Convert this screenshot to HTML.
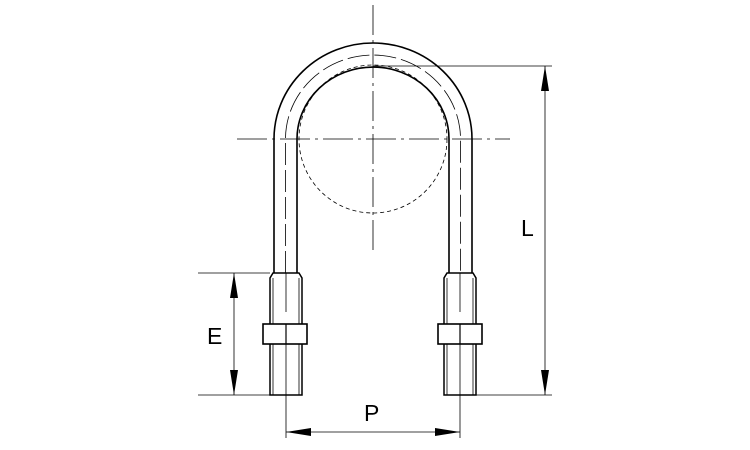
<!DOCTYPE html>
<html><head><style>html,body{margin:0;padding:0;background:#fff}svg{display:block}</style></head>
<body>
<svg width="750" height="450" viewBox="0 0 750 450" xmlns="http://www.w3.org/2000/svg">
<g fill="none" stroke="#000">
<line x1="373" y1="5" x2="373" y2="250" stroke-width="0.8" stroke-dasharray="30,5,3,5"/>
<line x1="237" y1="139" x2="510" y2="139" stroke-width="0.8" stroke-dasharray="30,5,3,5"/>
<circle cx="373" cy="139" r="74" stroke-width="0.8" stroke-dasharray="4,3"/>
<path d="M274 273 V139 A99 96 0 0 1 472 139 V273" stroke-width="1.6"/>
<path d="M297 273 V139 A76 72 0 0 1 449 139 V273" stroke-width="1.6"/>
<path d="M285.5 273 V139 A87.5 84 0 0 1 460.5 139 V273" stroke-width="0.8" stroke-dasharray="22,5"/>
<line x1="286" y1="273" x2="286" y2="312" stroke-width="0.8"/>
<line x1="286" y1="344" x2="286" y2="400" stroke-width="0.8"/>
<line x1="460" y1="273" x2="460" y2="312" stroke-width="0.8"/>
<line x1="460" y1="344" x2="460" y2="400" stroke-width="0.8"/>
<path d="M270 395 V278 L273 273 H299 L302 278 V395 Z" stroke-width="1.5"/>
<line x1="273" y1="278" x2="273" y2="395" stroke-width="0.8"/>
<line x1="299" y1="278" x2="299" y2="395" stroke-width="0.8"/>
<rect x="263" y="324" width="44" height="20" fill="#fff" stroke-width="1.6"/>
<line x1="286" y1="324" x2="286" y2="344" stroke-width="1.2"/>
<path d="M444 395 V278 L447 273 H473 L476 278 V395 Z" stroke-width="1.5"/>
<line x1="447" y1="278" x2="447" y2="395" stroke-width="0.8"/>
<line x1="473" y1="278" x2="473" y2="395" stroke-width="0.8"/>
<rect x="438" y="324" width="44" height="20" fill="#fff" stroke-width="1.6"/>
<line x1="460" y1="324" x2="460" y2="344" stroke-width="1.2"/>
<g stroke-width="0.8">
<line x1="198" y1="273" x2="270" y2="273"/>
<line x1="198" y1="395" x2="270" y2="395"/>
<line x1="234" y1="273" x2="234" y2="395"/>
<line x1="286" y1="400" x2="286" y2="438"/>
<line x1="460" y1="400" x2="460" y2="438"/>
<line x1="286" y1="432" x2="460" y2="432"/>
<line x1="373" y1="66" x2="552" y2="66"/>
<line x1="476" y1="395" x2="552" y2="395"/>
<line x1="545" y1="66" x2="545" y2="395"/>
</g>
</g>
<g fill="#000">
<polygon points="234,273 230,298 238,298"/>
<polygon points="234,395 230,370 238,370"/>
<polygon points="286,432 311,428 311,436"/>
<polygon points="460,432 435,428 435,436"/>
<polygon points="545,66 541,91 549,91"/>
<polygon points="545,395 541,370 549,370"/>
</g>
<g font-family="Liberation Sans, sans-serif" font-size="23" fill="#000">
<text x="207" y="344">E</text>
<text x="364" y="421">P</text>
<text x="521" y="236">L</text>
</g>
</svg>
</body></html>
